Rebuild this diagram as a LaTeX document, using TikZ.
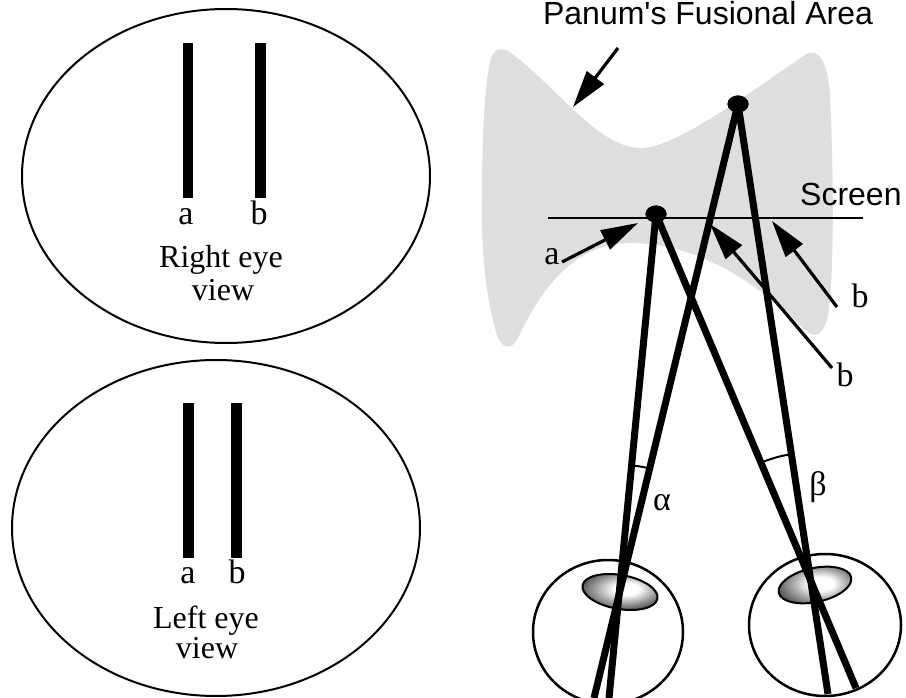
\documentclass[tikz,border=0pt]{standalone}
\usepackage{fontspec}
\setmainfont{Liberation Serif}
\newfontfamily\labelsans{Liberation Sans}[Ligatures=TeXOff]
\usetikzlibrary{arrows.meta,shapes.geometric,calc}

% lens shading: bright core slightly off centre, dark rim
\pgfdeclareradialshading{lens}{\pgfpoint{5bp}{2bp}}{%
  color(0bp)=(white); color(8bp)=(white); color(30bp)=(black!75);
  color(50bp)=(black!82)}

\begin{document}
\begin{tikzpicture}[x=1pt,y=-1pt,
  viewoval/.style={draw, line width=2pt},
  barstroke/.style={fill=black},
  serifbig/.style={inner sep=0pt, font=\fontsize{32}{34}\selectfont},
  letterlab/.style={inner sep=0pt, font=\fontsize{34}{36}\selectfont},
  sanslab/.style={inner sep=0pt, font=\labelsans\fontsize{32}{34}\selectfont},
  fusion/.style={fill=black!13},
  screenline/.style={line width=2.3pt},
  ray/.style={line width=7pt},
  fixdot/.style={ellipse, fill=black, minimum width=21pt, minimum height=17pt, inner sep=0pt},
  eyeball/.style={draw, line width=2.5pt},
  lensshape/.style={draw, line width=2pt, shading=lens},
  anglearc/.style={line width=2pt},
  pointer/.style={line width=3.2pt, -{Triangle[length=37pt,width=21pt]}}
]
\useasboundingbox (0,0) rectangle (906,698);

% ---------- right eye view ----------
\draw[viewoval] (226,176) ellipse [x radius=204pt, y radius=167pt];
\fill[barstroke] (183,43) rectangle (193,198);
\fill[barstroke] (255,43) rectangle (266,198);
\node[letterlab, anchor=base] (rva) at (186,225) {a};
\node[letterlab, anchor=base] (rvb) at (259,225) {b};
\node[serifbig, anchor=base] (rvt1) at (221,268) {Right eye};
\node[serifbig, anchor=base] (rvt2) at (223,300) {view};

% ---------- left eye view ----------
\draw[viewoval] (216,528) ellipse [x radius=204pt, y radius=168pt];
\fill[barstroke] (183,403) rectangle (194,558);
\fill[barstroke] (231,403) rectangle (242,558);
\node[letterlab, anchor=base] (lva) at (188,583) {a};
\node[letterlab, anchor=base] (lvb) at (237,583) {b};
\node[serifbig, anchor=base] (lvt1) at (206,628) {Left eye};
\node[serifbig, anchor=base] (lvt2) at (207,658) {view};

% ---------- Panum's fusional area ----------
\fill[fusion] (490,62)
  .. controls (492,50) and (500,46) .. (510,52)
  .. controls (560,90) and (600,150) .. (643,148)
  .. controls (680,146) and (760,85) .. (805,55)
  .. controls (818,46) and (828,62) .. (830,95)
  .. controls (834,180) and (834,280) .. (828,315)
  .. controls (824,335) and (815,340) .. (805,330)
  .. controls (740,265) and (680,243) .. (630,243)
  .. controls (580,243) and (545,280) .. (518,338)
  .. controls (512,350) and (502,350) .. (497,335)
  .. controls (486,300) and (481,250) .. (482,200)
  .. controls (482,140) and (484,90) .. (490,62) -- cycle;

\node[sanslab, anchor=base] (title) at (708,25) {Panum's Fusional Area};
\node[sanslab, anchor=base west] (screenlab) at (800,206) {Screen};

% screen
\coordinate (scrL) at (548,218);
\coordinate (scrR) at (863,218);
\draw[screenline] (scrL) -- (scrR);

% eyes
\draw[eyeball] (608,632) ellipse [x radius=75pt, y radius=72pt];
\draw[eyeball] (825,625) ellipse [x radius=76pt, y radius=71pt];
\path[lensshape, rotate around={-10:(620,592)}] (620,592) ellipse [x radius=38pt, y radius=17pt];
\path[lensshape, rotate around={12:(815,585)}] (815,585) ellipse [x radius=37pt, y radius=17pt];

% fixation points and lines of sight
\node[fixdot] (A) at (656,214) {};
\node[fixdot] (B) at (738,104) {};
\coordinate (A1) at (609,698);
\coordinate (B1) at (594,698);
\coordinate (A2) at (856,688);
\coordinate (B2) at (828,694);
\draw[ray] (A.center) -- (A1);
\draw[ray] (B.center) -- (B1);
\draw[ray] (A.center) -- (A2);
\draw[ray] (B.center) -- (B2);
\node[fixdot] at (A) {};
\node[fixdot] at (B) {};

% disparity angles
\coordinate (X) at (intersection of A.center--A1 and B.center--B1);
\coordinate (Y) at (intersection of A.center--A2 and B.center--B2);
\draw[anglearc] let \p1=($(A.center)-(X)$), \p2=($(B.center)-(X)$),
  \n1={atan2(\y1,\x1)}, \n2={atan2(\y2,\x2)} in
  ($(X)!130pt!(B.center)$) arc[start angle=\n2, end angle=\n1, radius=130pt];
\draw[anglearc] let \p1=($(A.center)-(Y)$), \p2=($(B.center)-(Y)$),
  \n1={atan2(\y1,\x1)}, \n2={atan2(\y2,\x2)} in
  ($(Y)!128pt!(B.center)$) arc[start angle=\n2, end angle=\n1, radius=128pt];
\node[letterlab] (alpha) at (662,503) {α};
\node[letterlab] (beta) at (818,487) {β};

% pointers
\coordinate (pT) at (618,48);
\coordinate (pH) at (573,107);
\draw[pointer] (pT) -- (pH);

\node[letterlab, anchor=base] (sa) at (552,265) {a};
\coordinate (aT) at (562,262);
\coordinate (aH) at (638,223);
\draw[pointer] (aT) -- (aH);

\node[letterlab, anchor=base] (sb1) at (860,307) {b};
\coordinate (b1T) at (837,307);
\coordinate (b1H) at (772,221);
\draw[pointer] (b1T) -- (b1H);

\node[letterlab, anchor=base] (sb2) at (845,386) {b};
\coordinate (b2T) at (832,368);
\coordinate (b2H) at (710,224);
\draw[pointer] (b2T) -- (b2H);
\end{tikzpicture}
\end{document}
